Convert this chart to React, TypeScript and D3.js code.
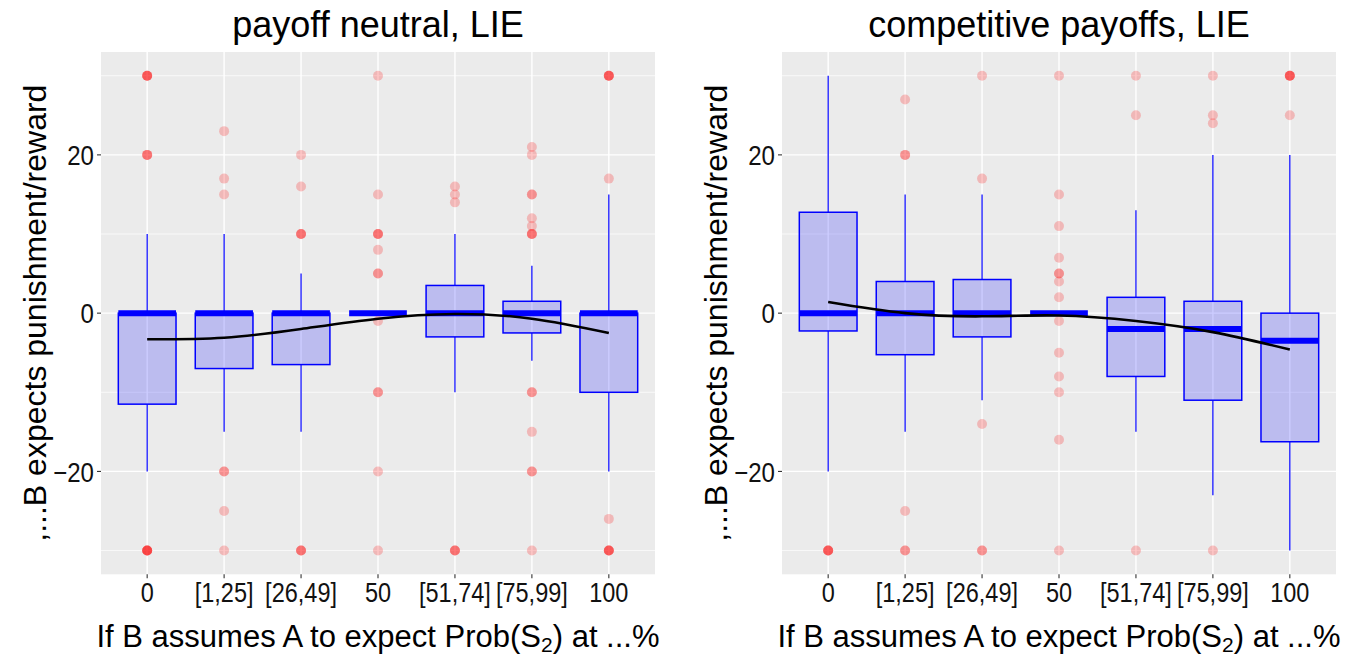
import React from "react";
import * as d3 from "d3";

const categories = ["0", "[1,25]", "[26,49]", "50", "[51,74]", "[75,99]", "100"];
const yMajor = [-20, 0, 20];
const yMinor = [-30, -10, 10, 30];

// payoff neutral, LIE
const neutralLower = [-20, -15, -15, 0, -10, -6, -20];
const neutralQ1 = [-11.5, -7, -6.5, 0, -3, -2.5, -10];
const neutralMedian = [0, 0, 0, 0, 0, 0, 0];
const neutralQ3 = [0, 0, 0, 0, 3.5, 1.5, 0];
const neutralUpper = [10, 10, 5, 0, 10, 6, 15];
// repeated values = several observations on the same spot
const neutralOutliers = [
  [30, 30, 30, 30, 20, 20, 20, -30, -30, -30, -30, -30],
  [23, 17, 15, -20, -20, -25, -30],
  [20, 16, 10, 10, 10, -30, -30, -30],
  [30, 15, 10, 10, 10, 8, 5, 5, -1, -10, -10, -20, -30],
  [16, 15, 14, -30, -30, -30],
  [21, 20, 15, 15, 12, 11, 10, 10, 10, -10, -10, -15, -20, -20, -30],
  [30, 30, 30, 30, 17, -26, -30, -30, -30, -30],
];
const neutralSmooth = [-3.3, -3.1, -2.0, -0.7, -0.1, -0.7, -2.5];

// competitive payoffs, LIE
const compLower = [-20, -15, -11, 0, -15, -23, -30];
const compQ1 = [-2.25, -5.25, -3, 0, -8, -11, -16.25];
const compMedian = [0, 0, 0, 0, -2, -2, -3.5];
const compQ3 = [12.75, 4, 4.25, 0, 2, 1.5, 0];
const compUpper = [30, 15, 15, 0, 13, 20, 20];
const compOutliers = [
  [-30, -30, -30, -30],
  [27, 20, 20, -25, -30, -30],
  [30, 17, -14, -30, -30],
  [30, 15, 11, 7, 5, 5, 4, 2, -1, -5, -8, -10, -16, -30],
  [30, 25, -30],
  [30, 25, 24, -30],
  [30, 30, 30, 30, 25],
];
const compSmooth = [1.4, 0.0, -0.4, -0.3, -1.0, -2.4, -4.6];

const W = 1360;
const H = 657;
const top = 52;
const bottom = 574.3;
const font = "'Liberation Sans', Arial, sans-serif";

interface PanelProps {
  title: string;
  left: number;
  right: number;
  lower: number[];
  q1: number[];
  median: number[];
  q3: number[];
  upper: number[];
  outliers: number[][];
  smooth: number[];
}

const Panel = ({ title, left, right, lower, q1, median, q3, upper, outliers, smooth }: PanelProps) => {
  const x = d3.scalePoint<string>().domain(categories).range([left, right]).padding(0.6);
  const y = d3.scaleLinear().domain([-33, 33]).range([bottom, top]);
  const bw = x.step() * 0.75;
  const line = d3
    .line<number>()
    .x((_, i) => x(categories[i])!)
    .y((d) => y(d))
    .curve(d3.curveNatural);
  const mid = (left + right) / 2;

  return (
    <g>
      <rect x={left} y={top} width={right - left} height={bottom - top} fill="#EBEBEB" />
      {yMinor.map((v) => (
        <line key={"mi" + v} x1={left} x2={right} y1={y(v)} y2={y(v)} stroke="#fff" strokeWidth={0.7} />
      ))}
      {yMajor.map((v) => (
        <line key={"ma" + v} x1={left} x2={right} y1={y(v)} y2={y(v)} stroke="#fff" strokeWidth={1.4} />
      ))}
      {categories.map((c) => (
        <line key={"gx" + c} x1={x(c)} x2={x(c)} y1={top} y2={bottom} stroke="#fff" strokeWidth={1.4} />
      ))}

      {categories.map((c, i) => {
        const cx = x(c)!;
        return (
          <g key={"box" + c}>
            <line x1={cx} x2={cx} y1={y(q3[i])} y2={y(upper[i])} stroke="blue" strokeWidth={1.2} />
            <line x1={cx} x2={cx} y1={y(q1[i])} y2={y(lower[i])} stroke="blue" strokeWidth={1.2} />
            <rect
              x={cx - bw / 2}
              y={y(q3[i])}
              width={bw}
              height={y(q1[i]) - y(q3[i])}
              fill="blue"
              fillOpacity={0.2}
              stroke="blue"
              strokeWidth={1.5}
            />
            <line x1={cx - bw / 2} x2={cx + bw / 2} y1={y(median[i])} y2={y(median[i])} stroke="blue" strokeWidth={6} />
            {outliers[i].map((v, j) => (
              <circle key={j} cx={cx} cy={y(v)} r={5} fill="red" fillOpacity={0.22} />
            ))}
          </g>
        );
      })}

      <path d={line(smooth) || ""} fill="none" stroke="black" strokeWidth={2.6} />

      {yMajor.map((v) => (
        <g key={"yt" + v}>
          <line x1={left - 4} x2={left} y1={y(v)} y2={y(v)} stroke="#333" strokeWidth={1.1} />
          <text
            transform={`translate(${left - 7},${y(v)}) scale(0.86,1)`}
            dy="0.36em"
            textAnchor="end"
            fontSize={28}
            fontFamily={font}
            fill="#111"
          >
            {v < 0 ? "\u2212" + Math.abs(v) : v}
          </text>
        </g>
      ))}
      {categories.map((c) => (
        <g key={"xt" + c}>
          <line x1={x(c)} x2={x(c)} y1={bottom} y2={bottom + 4} stroke="#333" strokeWidth={1.1} />
          <text
            transform={`translate(${x(c)},602) scale(0.84,1)`}
            textAnchor="middle"
            fontSize={28}
            fontFamily={font}
            fill="#111"
          >
            {c}
          </text>
        </g>
      ))}

      <text x={mid} y={37} textAnchor="middle" fontSize={36} fontFamily={font} fill="#000">
        {title}
      </text>
      <text x={mid} y={647} textAnchor="middle" fontSize={31} fontFamily={font} fill="#000">
        If B assumes A to expect Prob(S
        <tspan fontSize={21} dy={5}>2</tspan>
        <tspan dy={-5}>) at ...%</tspan>
      </text>
      <text
        transform={`translate(${left - 55},${(top + bottom) / 2}) rotate(-90)`}
        textAnchor="middle"
        fontSize={32}
        fontFamily={font}
        fill="#000"
      >
        ,...B expects punishment/reward
      </text>
    </g>
  );
};

export default function App() {
  return (
    <svg width={W} height={H} style={{ position: "absolute", left: 0, top: 0, background: "#fff" }}>
      <rect width={W} height={H} fill="#fff" />
      <Panel
        title="payoff neutral, LIE"
        left={101}
        right={655}
        lower={neutralLower}
        q1={neutralQ1}
        median={neutralMedian}
        q3={neutralQ3}
        upper={neutralUpper}
        outliers={neutralOutliers}
        smooth={neutralSmooth}
      />
      <Panel
        title="competitive payoffs, LIE"
        left={782}
        right={1336}
        lower={compLower}
        q1={compQ1}
        median={compMedian}
        q3={compQ3}
        upper={compUpper}
        outliers={compOutliers}
        smooth={compSmooth}
      />
    </svg>
  );
}
